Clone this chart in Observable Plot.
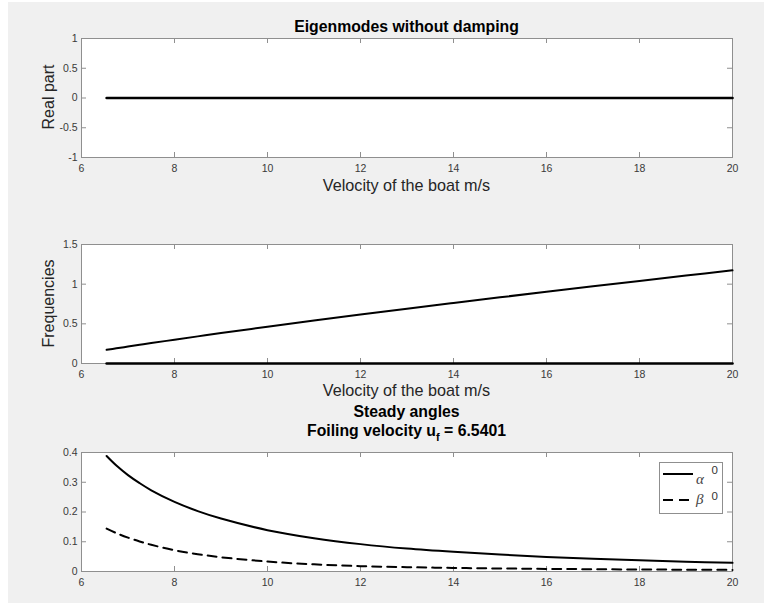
<!DOCTYPE html>
<html>
<head>
<meta charset="utf-8">
<script src="https://cdn.jsdelivr.net/npm/d3@7"></script>
<script src="https://cdn.jsdelivr.net/npm/@observablehq/plot@0.6"></script>
<style>
  html, body { margin: 0; padding: 0; background: #ffffff; }
  #fig { position: relative; width: 764px; height: 603px; overflow: hidden; background: #ffffff; }
  #bg { position: absolute; left: 8px; top: 2px; width: 756px; height: 601px; background: #f0f0f0; }
  #fig svg.panel { position: absolute; left: 0; }
  #overlay { position: absolute; left: 0; top: 0; pointer-events: none; }
</style>
</head>
<body>
<div id="fig"><div id="bg"></div></div>
<script>
// ---- data ----
const velocity   = [6.5401, 6.75, 7, 7.25, 7.5, 8, 8.5, 9, 10, 11, 12, 13, 14, 15, 16, 17, 18, 19, 20];
const realPart   = [0, 0, 0, 0, 0, 0, 0, 0, 0, 0, 0, 0, 0, 0, 0, 0, 0, 0, 0];
const freqZero   = [0, 0, 0, 0, 0, 0, 0, 0, 0, 0, 0, 0, 0, 0, 0, 0, 0, 0, 0];
const freqMode   = [0.172, 0.191, 0.213, 0.235, 0.257, 0.300, 0.342, 0.383, 0.463, 0.541, 0.617, 0.691, 0.763, 0.834, 0.904, 0.973, 1.041, 1.108, 1.174];
const alpha0     = [0.388, 0.356, 0.324, 0.297, 0.273, 0.234, 0.203, 0.178, 0.139, 0.112, 0.092, 0.077, 0.066, 0.057, 0.049, 0.043, 0.038, 0.033, 0.029];
const beta0      = [0.144, 0.129, 0.114, 0.101, 0.0898, 0.0715, 0.0583, 0.0479, 0.0335, 0.024, 0.018, 0.0145, 0.012, 0.0102, 0.0088, 0.0077, 0.0068, 0.006, 0.0054];

const xTicks     = [6, 8, 10, 12, 14, 16, 18, 20];
const yTicksReal = [-1, -0.5, 0, 0.5, 1];
const yTicksFreq = [0, 0.5, 1, 1.5];
const yTicksAng  = [0, 0.1, 0.2, 0.3, 0.4];

const titleTop    = "Eigenmodes without damping";
const xLabel      = "Velocity of the boat m/s";
const yLabelReal  = "Real part";
const yLabelFreq  = "Frequencies";
const titleAng1   = "Steady angles";
const titleAng2a  = "Foiling velocity u";
const titleAng2s  = "f";
const titleAng2b  = " = 6.5401";
const legendNames = ["α", "β"];

// ---- layout ----
const W = 764, ML = 81, MR = 32;
const FW = W - ML - MR;
const FONT = "'Liberation Sans', Arial, Helvetica, sans-serif";
const AXIS_GREY = "#8f8f8f";
const TEXT_COL = "#3a3a3a";

const mk = (xs, ys) => xs.map((x, i) => ({x, y: ys[i]}));

function panel({top, height, mt, mb, yDomain, yTicks, series}) {
  const FH = height - mt - mb;
  const marks = [
    Plot.frame({fill: "white", stroke: null}),
    // inward ticks (box on): bottom, top, left, right
    Plot.tickX(xTicks, {x: d => d, stroke: AXIS_GREY, strokeWidth: 1, insetTop: FH - 5}),
    Plot.tickX(xTicks, {x: d => d, stroke: AXIS_GREY, strokeWidth: 1, insetBottom: FH - 5}),
    Plot.tickY(yTicks, {y: d => d, stroke: AXIS_GREY, strokeWidth: 1, insetRight: FW - 5}),
    Plot.tickY(yTicks, {y: d => d, stroke: AXIS_GREY, strokeWidth: 1, insetLeft: FW - 5}),
    Plot.axisX(xTicks, {tickSize: 0, tickPadding: 7, label: null, fontSize: 10.5, tickFormat: d => String(d)}),
    Plot.axisY(yTicks, {tickSize: 0, tickPadding: 4, label: null, fontSize: 10.5, tickFormat: d => String(d)}),
    Plot.frame({stroke: AXIS_GREY, strokeWidth: 1}),
    ...series.map(s => Plot.line(s.data, {
      x: "x", y: "y", stroke: "black", strokeWidth: s.width ?? 2,
      strokeDasharray: s.dash ?? null, curve: "catmull-rom"
    }))
  ];
  const svg = Plot.plot({
    width: W, height,
    marginLeft: ML, marginRight: MR, marginTop: mt, marginBottom: mb,
    x: {domain: [6, 20]},
    y: {domain: yDomain},
    style: {background: "transparent", fontFamily: FONT, fontSize: "10.5px", color: TEXT_COL, overflow: "visible"},
    marks
  });
  svg.classList.add("panel");
  svg.style.top = top + "px";
  svg.style.position = "absolute";
  svg.style.left = "0px";
  document.getElementById("fig").appendChild(svg);
}

panel({top: 0, height: 200, mt: 38, mb: 43, yDomain: [-1, 1], yTicks: yTicksReal,
  series: [{data: mk(velocity, realPart), width: 2.6}]});
panel({top: 200, height: 200, mt: 44, mb: 37, yDomain: [0, 1.5], yTicks: yTicksFreq,
  series: [{data: mk(velocity, freqMode)}, {data: mk(velocity, freqZero), width: 2.6}]});
panel({top: 400, height: 203, mt: 52, mb: 32, yDomain: [0, 0.4], yTicks: yTicksAng,
  series: [{data: mk(velocity, alpha0)}, {data: mk(velocity, beta0), dash: "9,6"}]});

// ---- titles, axis labels, legend ----
const ns = "http://www.w3.org/2000/svg";
const ov = document.createElementNS(ns, "svg");
ov.setAttribute("id", "overlay");
ov.setAttribute("width", W);
ov.setAttribute("height", 603);
document.getElementById("fig").appendChild(ov);

function txt(x, y, s, attrs = {}) {
  const t = document.createElementNS(ns, "text");
  t.setAttribute("x", x); t.setAttribute("y", y);
  t.setAttribute("font-family", FONT);
  for (const [k, v] of Object.entries(attrs)) t.setAttribute(k, v);
  if (s !== null) t.textContent = s;
  ov.appendChild(t);
  return t;
}
const cx = ML + FW / 2;
txt(cx, 32, titleTop, {"text-anchor": "middle", "font-size": 15.8, "font-weight": "bold", fill: "#000"});
txt(cx, 191, xLabel, {"text-anchor": "middle", "font-size": 16.2, fill: "#262626"});
txt(cx, 396, xLabel, {"text-anchor": "middle", "font-size": 16.2, fill: "#262626"});
txt(0, 0, yLabelReal, {"text-anchor": "middle", "font-size": 16, fill: "#262626", transform: "translate(54,97) rotate(-90)"});
txt(0, 0, yLabelFreq, {"text-anchor": "middle", "font-size": 16, fill: "#262626", transform: "translate(54,303.5) rotate(-90)"});
txt(cx, 417, titleAng1, {"text-anchor": "middle", "font-size": 15.8, "font-weight": "bold", fill: "#000"});
{
  const t = txt(cx, 436, null, {"text-anchor": "middle", "font-size": 15.8, "font-weight": "bold", fill: "#000"});
  const a = document.createElementNS(ns, "tspan"); a.textContent = titleAng2a; t.appendChild(a);
  const b = document.createElementNS(ns, "tspan"); b.textContent = titleAng2s;
  b.setAttribute("dy", 5); b.setAttribute("font-size", 11); t.appendChild(b);
  const c = document.createElementNS(ns, "tspan"); c.textContent = titleAng2b;
  c.setAttribute("dy", -5); t.appendChild(c);
}
// legend
{
  const r = document.createElementNS(ns, "rect");
  r.setAttribute("x", 659.5); r.setAttribute("y", 462.5);
  r.setAttribute("width", 63); r.setAttribute("height", 51);
  r.setAttribute("fill", "white"); r.setAttribute("stroke", AXIS_GREY);
  ov.appendChild(r);
  const rows = [{y: 474, dash: null, tb: 483.5, sb: 474.3}, {y: 500, dash: "10,6", tb: 504, sb: 500}];
  rows.forEach((row, i) => {
    const l = document.createElementNS(ns, "line");
    l.setAttribute("x1", 663); l.setAttribute("x2", 693);
    l.setAttribute("y1", row.y); l.setAttribute("y2", row.y);
    l.setAttribute("stroke", "black"); l.setAttribute("stroke-width", 2);
    if (row.dash) l.setAttribute("stroke-dasharray", row.dash);
    ov.appendChild(l);
    txt(696, row.tb, legendNames[i], {"font-family": "'Liberation Serif', 'DejaVu Serif', serif", "font-style": "italic", "font-size": 15, fill: "#444"});
    txt(711.5, row.sb, "0", {"font-size": 11.5, fill: "#333"});
  });
}
</script>
</body>
</html>
